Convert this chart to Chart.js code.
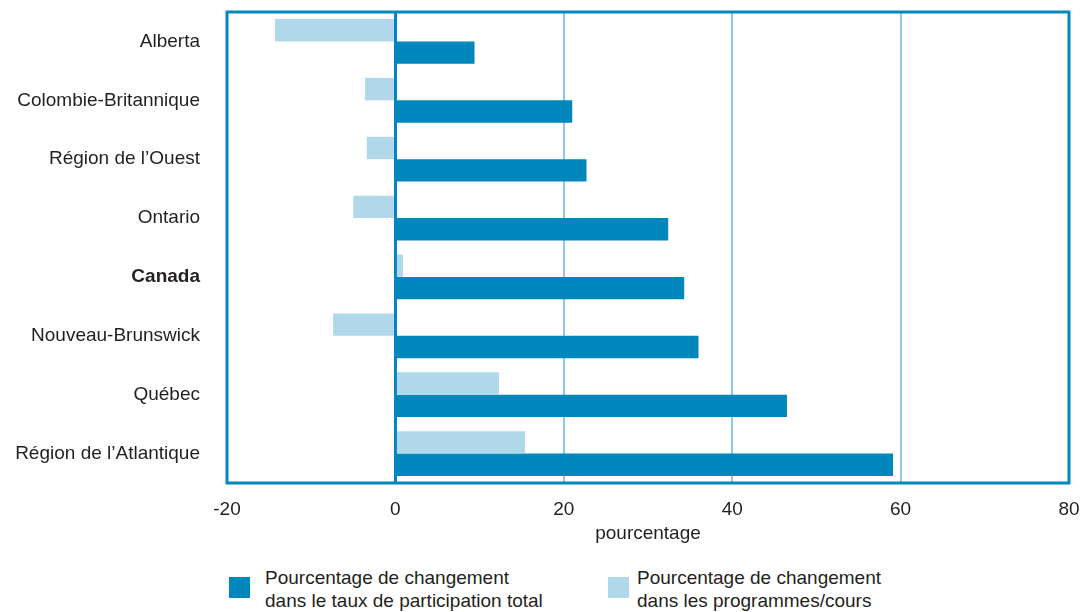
<!DOCTYPE html>
<html>
<head>
<meta charset="utf-8">
<script src="https://cdn.jsdelivr.net/npm/chart.js@4.4.0/dist/chart.umd.min.js"></script>
<style>
  body { margin: 0; background: #fff; width: 1082px; height: 612px; overflow: hidden; position: relative;
         font-family: "Liberation Sans", sans-serif; color: #231f20; }
  #wrap { position: absolute; left: 0; top: 0; width: 1082px; height: 560px; }
  .legend-item { position: absolute; top: 566px; font-size: 19px; line-height: 23px; }
  .legend-item .box { position: absolute; left: 0; top: 11px; width: 21px; height: 21px; }
  .legend-item .txt { position: absolute; white-space: nowrap; }
</style>
</head>
<body>
<div id="wrap"><canvas id="chart-bar"></canvas></div>
<div class="legend-item" style="left:229px"><div class="box" style="background:#0088be"></div><div class="txt" style="left:36px">Pourcentage de changement<br>dans le taux de participation total</div></div>
<div class="legend-item" style="left:608px"><div class="box" style="background:#b0d8ea"></div><div class="txt" style="left:29px">Pourcentage de changement<br>dans les programmes/cours</div></div>
<script>
var regions = ["Alberta", "Colombie-Britannique", "Région de l’Ouest", "Ontario", "Canada",
  "Nouveau-Brunswick", "Québec", "Région de l’Atlantique"];
// % change in total participation rate
var totalChange = [9.4, 21.0, 22.7, 32.4, 34.3, 36.0, 46.5, 59.1];
// % change in programs/courses
var programChange = [-14.3, -3.6, -3.4, -5.0, 0.9, -7.4, 12.3, 15.4];

var darkBlue = "#0088be";
var lightBlue = "#b0d8ea";
var fontFam = "'Liberation Sans', sans-serif";

// frame round the plot area
var framePlugin = {
  id: "frame",
  afterDraw: function (chart) {
    var a = chart.chartArea, c = chart.ctx;
    c.save();
    c.strokeStyle = darkBlue;
    c.lineWidth = 3;
    c.strokeRect(a.left, a.top, a.right - a.left, a.bottom - a.top);
    c.restore();
  }
};

var ctx = document.getElementById("chart-bar").getContext("2d");
new Chart(ctx, {
  type: "bar",
  data: {
    labels: regions,
    datasets: [
      {
        label: "Pourcentage de changement dans les programmes/cours",
        data: programChange,
        backgroundColor: lightBlue,
        categoryPercentage: 0.76,
        barPercentage: 1.0,
      },
      {
        label: "Pourcentage de changement dans le taux de participation total",
        data: totalChange,
        backgroundColor: darkBlue,
        categoryPercentage: 0.76,
        barPercentage: 1.0,
      },
    ],
  },
  options: {
    indexAxis: "y",
    responsive: true,
    maintainAspectRatio: false,
    animation: false,
    layout: {
      padding: { top: 12, right: 13, left: 0, bottom: 0 },
    },
    plugins: {
      legend: { display: false },
      tooltip: { enabled: false },
    },
    scales: {
      x: {
        min: -20,
        max: 80,
        ticks: {
          stepSize: 20,
          padding: 15,
          color: "#231f20",
          font: { size: 19, family: fontFam },
        },
        grid: {
          drawTicks: false,
          color: function (c) {
            return c.tick && c.tick.value === 0 ? darkBlue : "#8ccbe6";
          },
          lineWidth: function (c) {
            return c.tick && c.tick.value === 0 ? 3 : 2;
          },
        },
        border: { display: false },
        title: {
          display: true,
          text: "pourcentage",
          color: "#231f20",
          padding: { top: 0, bottom: 15 },
          font: { size: 19, family: fontFam },
        },
        afterFit: function (scale) {
          scale.height = 77;
          scale.paddingLeft = 0;
          scale.paddingRight = 0;
        },
      },
      y: {
        grid: { display: false },
        border: { display: false },
        ticks: {
          padding: 19,
          color: "#231f20",
          font: function (c) {
            var isCanada = c.tick && c.tick.label === "Canada";
            return { size: 19, family: fontFam, weight: isCanada ? "bold" : "normal" };
          },
        },
        afterFit: function (scale) {
          scale.width = 227;
          scale.paddingTop = 0;
          scale.paddingBottom = 0;
        },
      },
    },
  },
  plugins: [framePlugin],
});
</script>
</body>
</html>
